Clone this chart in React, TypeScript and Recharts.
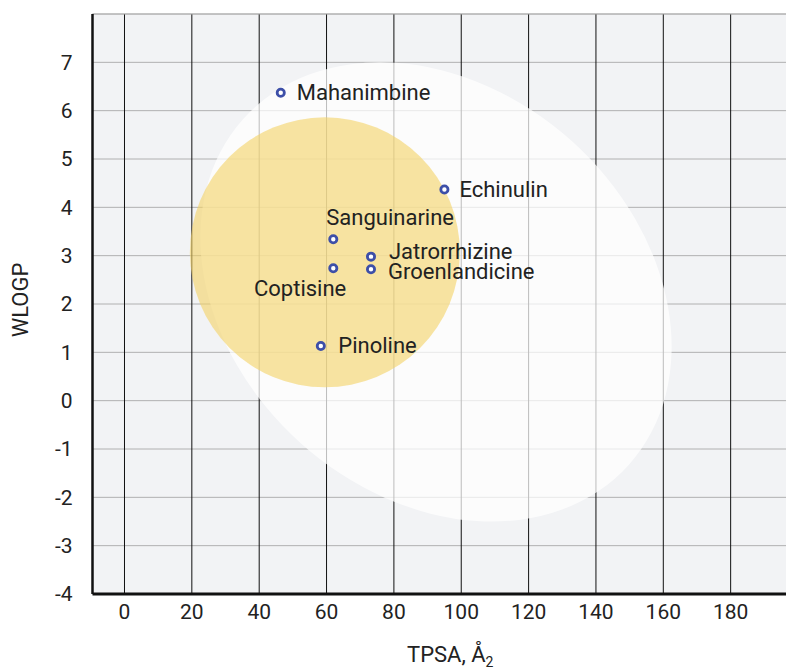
import { CartesianGrid, Label, ReferenceLine, Scatter, ScatterChart, XAxis, YAxis } from "recharts";

const TPSA_TICKS = [0, 20, 40, 60, 80, 100, 120, 140, 160, 180];
const WLOGP_TICKS = [-4, -3, -2, -1, 0, 1, 2, 3, 4, 5, 6, 7];

const COMPOUNDS = [
  "Mahanimbine",
  "Echinulin",
  "Sanguinarine",
  "Jatrorrhizine",
  "Groenlandicine",
  "Coptisine",
  "Pinoline",
];
const TPSA = [46.4, 95.0, 62.0, 73.2, 73.2, 62.0, 58.3];
const WLOGP = [6.37, 4.37, 3.34, 2.98, 2.72, 2.74, 1.13];

// centres of the white (HIA) and yolk (BBB) regions
const EGG_CENTER = [{ x: 92.5, y: 2.25 }];
const YOLK_CENTER = [{ x: 59.5, y: 3.07 }];

const points = COMPOUNDS.map((name, i) => ({ name, x: TPSA[i], y: WLOGP[i] }));

// label placement next to each marker: dx, dy, anchor
const LABEL_POS: Record<string, [number, number, "start" | "end"]> = {
  Mahanimbine: [16, 7, "start"],
  Echinulin: [15, 7.5, "start"],
  Sanguinarine: [-7, -14, "start"],
  Jatrorrhizine: [18, 2, "start"],
  Groenlandicine: [17, 10, "start"],
  Coptisine: [13, 28, "end"],
  Pinoline: [17.5, 7, "start"],
};

const FONT = "Roboto, 'Noto Sans', sans-serif";
const TEXT = "#222";

const EggShape = (p: any) => (
  <ellipse
    cx={p.cx}
    cy={p.cy}
    rx={259}
    ry={203}
    transform={`rotate(41.9 ${p.cx} ${p.cy})`}
    fill="#ffffff"
    fillOpacity={0.72}
  />
);

const YolkShape = (p: any) => (
  <circle cx={p.cx} cy={p.cy} r={135} fill="#f3d264" fillOpacity={0.6} />
);

const PointShape = (p: any) => {
  const [dx, dy, anchor] = LABEL_POS[p.payload.name] ?? [14, 7, "start"];
  return (
    <g>
      <circle cx={p.cx} cy={p.cy} r={3.6} fill="#fff" stroke="#3d4fa8" strokeWidth={2.8} />
      <text
        x={p.cx + dx}
        y={p.cy + dy}
        textAnchor={anchor}
        fill={TEXT}
        fontSize={22}
        fontFamily={FONT}
      >
        {p.payload.name}
      </text>
    </g>
  );
};

export default function App() {
  return (
    <div
      style={{
        position: "absolute",
        left: 0,
        top: 0,
        width: 786,
        height: 668,
        overflow: "hidden",
        background: "#fff",
        fontFamily: FONT,
      }}
    >
      <ScatterChart
        width={800}
        height={668}
        margin={{ top: 14, right: 2, bottom: 0, left: 0 }}
      >
        <CartesianGrid
          vertical={false}
          stroke="#b0b0b0"
          fill="#f2f3f5"
          fillOpacity={1}
        />
        <CartesianGrid horizontal={false} stroke="#111" />
        <XAxis
          type="number"
          dataKey="x"
          domain={[-9.5, 200]}
          ticks={TPSA_TICKS}
          allowDataOverflow
          height={74}
          axisLine={{ stroke: "#111", strokeWidth: 3 }}
          tickLine={false}
          tickSize={0}
          tickMargin={10}
          tick={{ fill: TEXT, fontSize: 21, fontFamily: FONT }}
        >
          <Label
            content={(props: any) => {
              const vb = props.viewBox || { x: 92, y: 594, width: 706 };
              return (
                <text
                  x={vb.x + vb.width / 2 + 5}
                  y={vb.y + 68}
                  textAnchor="middle"
                  fill={TEXT}
                  fontSize={22}
                  fontFamily={FONT}
                >
                  TPSA, Å
                  <tspan fontSize={14} dy={5}>
                    2
                  </tspan>
                </text>
              );
            }}
          />
        </XAxis>
        <YAxis
          type="number"
          dataKey="y"
          domain={[-4, 8]}
          ticks={WLOGP_TICKS}
          allowDataOverflow
          width={92.5}
          axisLine={{ stroke: "#111", strokeWidth: 2.5 }}
          tickLine={false}
          tickSize={0}
          tickMargin={20}
          tick={{ fill: TEXT, fontSize: 21, fontFamily: FONT }}
        >
          <Label
            content={(props: any) => {
              const vb = props.viewBox || { x: 0, y: 14, height: 580 };
              const cx = vb.x + 20;
              const cy = vb.y + vb.height / 2 - 4;
              return (
                <text
                  x={cx}
                  y={cy}
                  transform={`rotate(-90 ${cx} ${cy})`}
                  textAnchor="middle"
                  dominantBaseline="central"
                  fill={TEXT}
                  fontSize={22}
                  fontFamily={FONT}
                >
                  WLOGP
                </text>
              );
            }}
          />
        </YAxis>
        <ReferenceLine y={8} stroke="#b0b0b0" ifOverflow="visible" />
        <Scatter data={EGG_CENTER} shape={EggShape} isAnimationActive={false} />
        <Scatter data={YOLK_CENTER} shape={YolkShape} isAnimationActive={false} />
        <Scatter data={points} shape={PointShape} isAnimationActive={false} />
      </ScatterChart>
    </div>
  );
}
